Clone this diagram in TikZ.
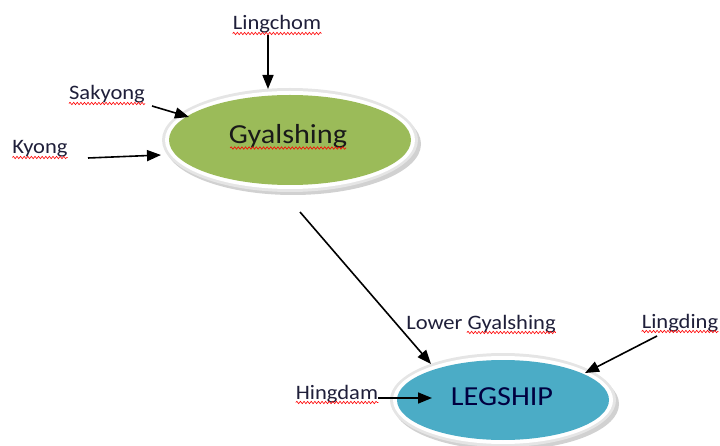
\documentclass[tikz,border=0pt]{standalone}
\usepackage{fontspec}
\setmainfont[FakeStretch=1.1]{Carlito}
\usetikzlibrary{arrows.meta,decorations.pathmorphing,shapes.geometric}
\definecolor{olive}{HTML}{9BBB59}
\definecolor{aqua}{HTML}{4BACC6}
\definecolor{labelink}{HTML}{1F1F3A}
\tikzset{
  lbl/.style={font=\fontsize{20.5}{22}\selectfont, text=labelink, inner sep=0pt, anchor=base},
  big/.style={font=\fontsize{27.5}{30}\selectfont, text=black!90, inner sep=0pt, anchor=base},
  flow/.style={line width=1.6pt, -{Triangle[length=14pt,width=11pt]}},
  squiggle/.style={draw=red, line width=0.6pt, decorate,
    decoration={snake, amplitude=1.2pt, segment length=3.6pt}},
}
\newcommand{\townoval}[5]{% center x, y, rx, ry, fill colour
  \fill[black!30, opacity=0.6] (#1+3,#2+4) ellipse ({#3+7} and {#4+6});
  \fill[black!10] (#1,#2) ellipse ({#3+7} and {#4+7});
  \fill[white] (#1,#2) ellipse ({#3+4} and {#4+4});
  \fill[#5] (#1,#2) ellipse ({#3} and {#4});
}
\begin{document}
\begin{tikzpicture}[x=1pt,y=-1pt]
  \useasboundingbox (0,0) rectangle (720,446);

  % the two towns as ovals
  \townoval{290}{140}{121}{45}{olive}
  \townoval{503}{400}{106}{40}{aqua}
  \node[big] (g) at (288,144) {Gyalshing};
  \node[big, text=black!75!blue] (l) at (502,405) {LEGSHIP};

  % labels
  \node[lbl] (lingchom) at (277,30) {Lingchom};
  \node[lbl] (sakyong) at (107,100) {Sakyong};
  \node[lbl] (kyong) at (40,154) {Kyong};
  \node[lbl] (lower) at (481,329) {Lower Gyalshing};
  \node[lbl] (lingding) at (680,328) {Lingding};
  \node[lbl] (hingdam) at (337,399) {Hingdam};

  % spelling underlines, just under the baseline
  \foreach \n in {lingchom,sakyong,kyong,lingding,hingdam}
    \draw[squiggle] ([yshift=-3.5pt]\n.base west) -- ([yshift=-3.5pt]\n.base east);
  \draw[squiggle] ([xshift=-89pt,yshift=-3.5pt]lower.base east) -- ([yshift=-3.5pt]lower.base east);
  \draw[squiggle] ([xshift=-58pt,yshift=-4pt]g.base) -- ([xshift=58pt,yshift=-4pt]g.base);

  % arrow ends
  \coordinate (a1) at (268,35);  \coordinate (b1) at (268,89);
  \coordinate (a2) at (152,106); \coordinate (b2) at (189,117);
  \coordinate (a3) at (88,158);  \coordinate (b3) at (161,155);
  \coordinate (a4) at (300,212); \coordinate (b4) at (431,364);
  \coordinate (a5) at (657,336); \coordinate (b5) at (585,373);
  \coordinate (a6) at (hingdam.base east |- 0,398); \coordinate (b6) at (432,398);

  \draw[flow] (a1) -- (b1);
  \draw[flow] (a2) -- (b2);
  \draw[flow] (a3) -- (b3);
  \draw[flow] (a4) -- (b4);
  \draw[flow] (a5) -- (b5);
  \draw[flow] (a6) -- (b6);
\end{tikzpicture}
\end{document}
